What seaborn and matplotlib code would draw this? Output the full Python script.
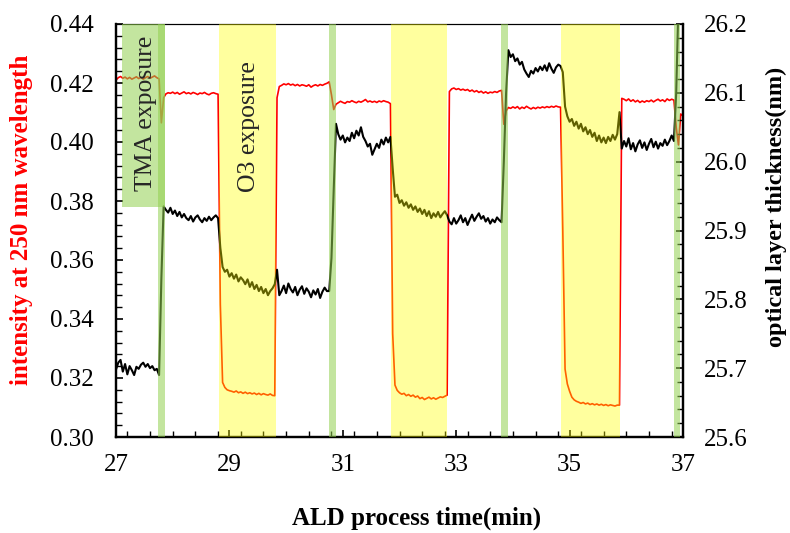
import numpy as np
import pandas as pd
import matplotlib
matplotlib.use("Agg")
import matplotlib.pyplot as plt
import seaborn as sns
from matplotlib.ticker import MultipleLocator, FormatStrFormatter

# ---------------- data ----------------
time_start = 27.0      # min
time_step = 0.04       # min between samples

intensity = [  # intensity at 250 nm (left axis)
    0.4210, 0.4218, 0.4222, 0.4216, 0.4220, 0.4214, 0.4219, 0.4213, 0.4217, 0.4221,
    0.4215, 0.4219, 0.4213, 0.4218, 0.4222, 0.4216, 0.4220, 0.4224, 0.4218, 0.4214,
    0.4065, 0.4150,
    0.4163, 0.4167, 0.4165, 0.4169, 0.4164, 0.4168, 0.4162, 0.4166, 0.4170, 0.4164,
    0.4167, 0.4163, 0.4168, 0.4165, 0.4161, 0.4166, 0.4164, 0.4168, 0.4163, 0.4160,
    0.4165, 0.4167, 0.4164,
    0.4162, 0.3450, 0.3185,
    0.3168, 0.3160, 0.3157, 0.3155, 0.3152, 0.3156, 0.3150, 0.3153, 0.3148, 0.3152,
    0.3147, 0.3150, 0.3146, 0.3149, 0.3144, 0.3148, 0.3143, 0.3147, 0.3144, 0.3142,
    0.3146, 0.3141,
    0.3140, 0.4150, 0.4188,
    0.4192, 0.4197, 0.4194, 0.4198, 0.4193, 0.4196, 0.4191, 0.4195, 0.4190, 0.4194,
    0.4192, 0.4189, 0.4194, 0.4186, 0.4191, 0.4194, 0.4190, 0.4195, 0.4192, 0.4196,
    0.4199,
    0.4204, 0.4160, 0.4110, 0.4128,
    0.4133, 0.4138, 0.4134, 0.4131, 0.4137, 0.4135, 0.4140, 0.4136, 0.4133, 0.4138,
    0.4135, 0.4139, 0.4144, 0.4136, 0.4139, 0.4135, 0.4138, 0.4134, 0.4139, 0.4136,
    0.4140, 0.4137, 0.4135,
    0.4130, 0.3350, 0.3176,
    0.3158, 0.3150, 0.3145, 0.3148, 0.3140, 0.3144, 0.3138, 0.3142, 0.3135, 0.3139,
    0.3130, 0.3134, 0.3127, 0.3131, 0.3135, 0.3129, 0.3133, 0.3128, 0.3132, 0.3136,
    0.3134, 0.3138,
    0.3142, 0.4171,
    0.4180, 0.4183, 0.4178, 0.4181, 0.4176, 0.4179, 0.4175, 0.4178, 0.4172, 0.4176,
    0.4170, 0.4174, 0.4168, 0.4172, 0.4166, 0.4170, 0.4165, 0.4169, 0.4167, 0.4171,
    0.4168, 0.4173,
    0.4175, 0.4060, 0.4105, 0.4117,
    0.4114, 0.4119, 0.4115, 0.4120, 0.4112, 0.4118, 0.4114, 0.4121, 0.4116, 0.4112,
    0.4117, 0.4113, 0.4118, 0.4115, 0.4119, 0.4116, 0.4120, 0.4117, 0.4121, 0.4118,
    0.4122, 0.4119,
    0.4118, 0.3700, 0.3230, 0.3180, 0.3155, 0.3135,
    0.3126, 0.3121, 0.3118, 0.3114, 0.3117, 0.3112, 0.3115, 0.3110, 0.3113, 0.3109,
    0.3112, 0.3108, 0.3111, 0.3107, 0.3110, 0.3106, 0.3109, 0.3107, 0.3105, 0.3108,
    0.3108, 0.4148,
    0.4145, 0.4140, 0.4146, 0.4138, 0.4143, 0.4136, 0.4141, 0.4134, 0.4139, 0.4135,
    0.4140, 0.4137, 0.4142, 0.4136, 0.4141, 0.4145, 0.4139, 0.4143, 0.4137, 0.4146,
    0.4141, 0.4145,
    0.4142, 0.4050, 0.3990, 0.4095, 0.4088,
]

thickness = [  # optical layer thickness, nm (right axis)
    25.698, 25.708, 25.712, 25.695, 25.706, 25.691, 25.703, 25.697, 25.690, 25.702,
    25.699, 25.705, 25.708, 25.702, 25.706, 25.700, 25.703, 25.697, 25.699,
    25.690, 25.830, 25.935,
    25.930, 25.926, 25.933, 25.924, 25.929, 25.921, 25.927, 25.919, 25.924, 25.918,
    25.915, 25.921, 25.913, 25.919, 25.922, 25.916, 25.912, 25.918, 25.914, 25.920,
    25.915, 25.919, 25.922,
    25.918, 25.875, 25.847,
    25.840, 25.843, 25.833, 25.838, 25.830, 25.836, 25.826, 25.832, 25.828, 25.822,
    25.829, 25.818, 25.825, 25.815, 25.821, 25.812, 25.818, 25.809, 25.815, 25.806,
    25.812, 25.816,
    25.822, 25.843, 25.806,
    25.812, 25.820, 25.809, 25.823, 25.815, 25.810, 25.818, 25.806, 25.814, 25.819,
    25.808, 25.816, 25.811, 25.803, 25.813, 25.807, 25.815, 25.802, 25.811, 25.817,
    25.812,
    25.812, 25.860, 25.960, 26.055,
    26.040, 26.032, 26.038, 26.028, 26.035, 26.030, 26.042, 26.034, 26.045, 26.038,
    26.050, 26.036, 26.030, 26.022, 26.026, 26.010, 26.018, 26.026, 26.020, 26.032,
    26.025, 26.035, 26.028,
    26.036, 25.990, 25.949,
    25.952, 25.940, 25.944, 25.936, 25.941, 25.933, 25.938, 25.930, 25.935, 25.927,
    25.932, 25.924, 25.930, 25.921, 25.928, 25.918, 25.925, 25.920, 25.927, 25.919,
    25.924, 25.928,
    25.922,
    25.913, 25.909, 25.918, 25.910, 25.915, 25.922, 25.912, 25.918, 25.908, 25.916,
    25.923, 25.914, 25.920, 25.925, 25.917, 25.921, 25.913, 25.918, 25.910, 25.916,
    25.912, 25.919, 25.915,
    25.912, 26.000, 26.100, 26.162,
    26.152, 26.156, 26.146, 26.150, 26.141, 26.145, 26.134, 26.128, 26.123, 26.132,
    26.128, 26.136, 26.131, 26.138, 26.133, 26.140, 26.132, 26.143, 26.135, 26.129,
    26.137, 26.141,
    26.139, 26.130, 26.080,
    26.066, 26.058, 26.062, 26.052, 26.058, 26.048, 26.055, 26.044, 26.050, 26.040,
    26.046, 26.036, 26.042, 26.030, 26.038, 26.028, 26.035, 26.027, 26.036, 26.030,
    26.039, 26.032, 26.040,
    26.072, 26.019,
    26.030, 26.022, 26.034, 26.018, 26.027, 26.015, 26.025, 26.031, 26.020, 26.028,
    26.017, 26.026, 26.033, 26.021, 26.029, 26.019, 26.027, 26.023, 26.032, 26.024,
    26.030, 26.038,
    26.030, 26.100, 26.230,
]

tma_windows = [(27.735, 27.858), (30.757, 30.875), (33.790, 33.905), (36.840, 36.955)]
o3_windows = [(28.825, 29.815), (31.850, 32.840), (34.855, 35.895)]
tma_label_box = (27.105, 27.860, 0.378)   # x0, x1, lower edge (left-axis units)

x_ticks = [27, 29, 31, 33, 35, 37]
left_ticks = [0.30, 0.32, 0.34, 0.36, 0.38, 0.40, 0.42, 0.44]
right_ticks = [25.6, 25.7, 25.8, 25.9, 26.0, 26.1, 26.2]

# ---------------- frames ----------------
df_i = pd.DataFrame({"time": time_start + time_step * np.arange(len(intensity)),
                     "intensity": intensity})
df_t = pd.DataFrame({"time": time_start + time_step * np.arange(len(thickness)),
                     "thickness": thickness})

sns.set_theme(style="ticks")
plt.rcParams["font.family"] = ["Liberation Serif", "DejaVu Serif"]

W, H = 790, 533
fig = plt.figure(figsize=(W / 100, H / 100), dpi=100)
L, R, T, B = 116, 683, 24, 437
ax = fig.add_axes([L / W, 1 - B / H, (R - L) / W, (B - T) / H])
ax2 = ax.twinx()

sns.lineplot(data=df_i, x="time", y="intensity", ax=ax, color="#ff0000",
             linewidth=1.2, estimator=None, legend=False)
sns.lineplot(data=df_t, x="time", y="thickness", ax=ax2, color="#000000",
             linewidth=1.5, estimator=None, legend=False)

ax.set_xlim(27, 37)
ax.set_ylim(0.30, 0.44)
ax2.set_ylim(25.6, 26.2)

# translucent exposure bands drawn over the curves
green = (146 / 255, 208 / 255, 80 / 255)
yellow = (1.0, 1.0, 0.0)
for a, b in o3_windows:
    ax2.axvspan(a, b, color=yellow, alpha=0.38, lw=0, zorder=5)
for a, b in tma_windows:
    ax2.axvspan(a, b, color=green, alpha=0.55, lw=0, zorder=5)
bx0, bx1, by0 = tma_label_box
ax2.axvspan(bx0, bx1, ymin=(by0 - 0.30) / 0.14, ymax=1, color=green,
            alpha=0.55, lw=0, zorder=5)

ax2.text(27.53, 0.4098, "TMA exposure", transform=ax.transData, rotation=90,
         ha="center", va="center", fontsize=18.5, zorder=7)
ax2.text(29.34, 0.4054, "O3 exposure", transform=ax.transData, rotation=90,
         ha="center", va="center", fontsize=18.5, zorder=7)

# ticks
ax.set_xticks(x_ticks)
ax.xaxis.set_minor_locator(MultipleLocator(0.4))
ax.set_yticks(left_ticks)
ax.yaxis.set_minor_locator(MultipleLocator(0.004))
ax.yaxis.set_major_formatter(FormatStrFormatter("%.2f"))
ax2.set_yticks(right_ticks)
ax2.yaxis.set_minor_locator(MultipleLocator(0.02))
ax2.yaxis.set_major_formatter(FormatStrFormatter("%.1f"))

ax.tick_params(axis="x", which="both", direction="in", top=False, labelsize=18,
               pad=12, colors="black")
ax.tick_params(axis="y", which="both", direction="in", right=False, labelsize=18,
               pad=16, colors="black")
ax2.tick_params(axis="y", which="both", direction="in", labelsize=18, pad=15,
                colors="black")
for a_ in (ax, ax2):
    a_.tick_params(which="major", length=5, width=1.2)
    a_.tick_params(which="minor", length=4.5, width=1.0)
    a_.set_xlabel("")
    a_.set_ylabel("")
    for s in ("left", "bottom", "right"):
        a_.spines[s].set_linewidth(1.6)
        a_.spines[s].set_color("black")
    a_.spines["top"].set_linewidth(0.8)
    a_.spines["top"].set_color("black")
    a_.grid(False)

fig.text(417 / W, 1 - 518 / H, "ALD process time(min)", ha="center", va="center",
         fontsize=18, fontweight="bold", color="black")
fig.text(22 / W, 1 - 220 / H, "intensity at 250 nm wavelength", ha="center",
         va="center", rotation=90, fontsize=18, fontweight="bold", color="#ff0000")
fig.text(776 / W, 1 - 207 / H, "optical layer thickness(nm)", ha="center",
         va="center", rotation=90, fontsize=17.5, fontweight="bold", color="black")

fig.savefig("out.png", dpi=100, facecolor="white")
